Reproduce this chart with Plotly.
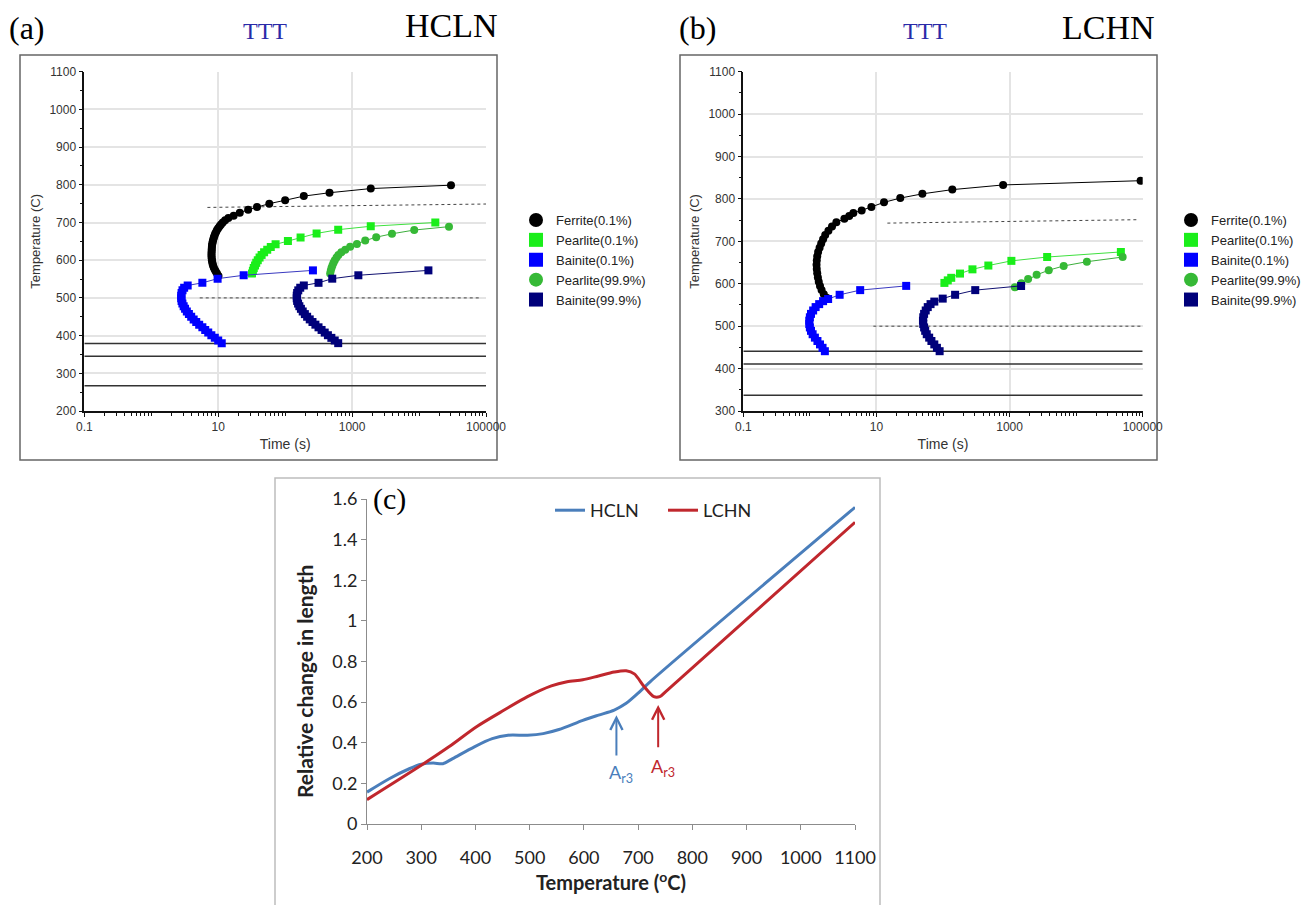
import plotly.graph_objects as go

W, H = 1310, 905

# ---------------- TTT data, steel HCLN (panel a) ----------------
series_names = ["Ferrite(0.1%)", "Pearlite(0.1%)", "Bainite(0.1%)",
                "Pearlite(99.9%)", "Bainite(99.9%)"]

hcln_ferrite_T = [558, 565, 570, 575, 580, 585, 590, 595, 600, 605, 610, 615, 620, 625,
                  630, 635, 640, 645, 650, 655, 660, 665, 670, 675, 680, 685, 690, 695,
                  700, 706, 712, 718, 726, 734, 741, 750, 759, 770, 779, 790, 799]
hcln_ferrite_t = [10.1, 9.6, 9.2, 8.9, 8.6, 8.4, 8.25, 8.15, 8.05, 8.0, 7.95, 7.95, 7.95, 8.0,
                  8.0, 8.05, 8.1, 8.2, 8.3, 8.45, 8.6, 8.8, 9.0, 9.3, 9.6, 10.0, 10.5, 11.0,
                  11.7, 12.7, 14.2, 17, 21, 28, 38, 58, 100, 190, 460, 1900, 30000]

hcln_pearl01_T = [565, 572, 579, 586, 593, 600, 607, 614, 621, 628, 635, 642, 651, 660,
                  671, 681, 690, 700]
hcln_pearl01_t = [32, 33, 34, 35.5, 37, 39, 41.5, 44.5, 48.5, 54, 61, 72, 110, 170,
                  295, 620, 1900, 17500]

hcln_bain01_T = [380, 387, 394, 401, 408, 415, 422, 429, 436, 443, 450, 457, 464, 471,
                 478, 485, 492, 499, 506, 513, 520, 527, 533, 540, 551, 560, 573]
hcln_bain01_t = [11.3, 10.0, 8.9, 7.9, 7.1, 6.4, 5.8, 5.2, 4.7, 4.3, 3.95, 3.65, 3.4, 3.2,
                 3.05, 2.92, 2.84, 2.8, 2.8, 2.84, 2.93, 3.1, 3.5, 5.8, 9.8, 24, 260]

hcln_pearl999_T = [565, 572, 579, 586, 593, 600, 607, 614, 621, 628, 636, 643, 652, 661,
                   670, 680, 689]
hcln_pearl999_t = [470, 480, 492, 508, 528, 552, 585, 625, 690, 790, 935, 1180, 1570, 2290,
                   3940, 8470, 28000]

hcln_bain999_T = [380, 387, 394, 401, 408, 415, 422, 429, 436, 443, 450, 457, 464, 471,
                  478, 485, 492, 499, 506, 513, 520, 527, 533, 540, 551, 560, 573]
hcln_bain999_t = [620, 550, 490, 435, 390, 350, 315, 283, 256, 233, 213, 197, 183, 172,
                  163, 156, 151, 149, 149, 151, 157, 168, 190, 315, 505, 1240, 13800]

hcln_solid_T = [379, 345, 267]                     # horizontal reference temperatures
hcln_dash_upper_t, hcln_dash_upper_T = [6.9, 100000], [740, 749]
hcln_dash_lower_t, hcln_dash_lower_T = [5.3, 79000], [500, 500]

# ---------------- TTT data, steel LCHN (panel b) ----------------
lchn_ferrite_T = [567, 575, 585, 595, 605, 615, 625, 635, 645, 655, 665, 675, 685, 695,
                  705, 715, 725, 735, 745, 753, 760, 767, 773, 781, 792, 802, 812, 822,
                  833, 843]
lchn_ferrite_t = [1.78, 1.62, 1.5, 1.42, 1.36, 1.32, 1.29, 1.27, 1.26, 1.27, 1.29, 1.33,
                  1.4, 1.48, 1.58, 1.7, 1.9, 2.15, 2.5, 3.3, 3.9, 4.5, 6.0, 8.4, 13, 22.8,
                  49, 138, 800, 93000]

lchn_pearl01_T = [602, 608, 614, 624, 634, 643, 654, 663, 675]
lchn_pearl01_t = [105, 118, 133, 180, 277, 480, 1065, 3670, 47000]

lchn_bain01_T = [441, 449, 457, 465, 473, 481, 489, 497, 505, 513, 521, 529, 537, 545,
                 552, 559, 564, 574, 585, 595]
lchn_bain01_t = [1.68, 1.55, 1.42, 1.3, 1.19, 1.1, 1.04, 1.0, 0.98, 0.98, 1.0, 1.04, 1.12,
                 1.22, 1.38, 1.58, 1.88, 2.8, 5.7, 28]

lchn_pearl999_T = [592, 601, 611, 621, 632, 642, 652, 663]
lchn_pearl999_t = [1200, 1500, 1900, 2550, 3880, 6500, 14500, 50000]

lchn_bain999_T = [441, 449, 457, 465, 473, 481, 489, 497, 505, 513, 521, 529, 537, 545,
                  552, 558, 565, 574, 585, 595]
lchn_bain999_t = [89, 81, 74, 67, 62, 57, 54, 52, 50.5, 50, 50.5, 52, 55, 59, 65, 74, 99,
                  152, 305, 1490]

lchn_solid_T = [441, 411, 337]
lchn_dash_upper_t, lchn_dash_upper_T = [14.6, 81000], [743, 751]
lchn_dash_lower_t, lchn_dash_lower_T = [9, 100000], [500, 500]

# ---------------- dilatometry (panel c) ----------------
dil_hcln_T = [200, 241, 278, 300, 322, 340, 358, 398, 431, 460, 496, 525, 554, 598, 627,
              656, 678, 700, 722, 1100]
dil_hcln_dl = [0.157, 0.223, 0.272, 0.294, 0.300, 0.297, 0.322, 0.38, 0.42, 0.437, 0.437,
               0.445, 0.465, 0.51, 0.536, 0.561, 0.594, 0.644, 0.70, 1.559]
dil_lchn_T = [200, 300, 351, 402, 453, 496, 540, 569, 598, 627, 656, 678, 693, 711, 729,
              740, 751, 1100]
dil_lchn_dl = [0.12, 0.289, 0.38, 0.479, 0.561, 0.627, 0.68, 0.70, 0.71, 0.729, 0.748,
               0.754, 0.739, 0.677, 0.627, 0.627, 0.652, 1.485]

ar3_hcln = (660, 0.536)   # A_r3 of HCLN (temperature, relative change)
ar3_lchn = (737, 0.586)   # A_r3 of LCHN

# ---------------- styling ----------------
MARK_COL = ["#000000", "#1aee1a", "#0000ff", "#36b936", "#00007a"]
LINE_COL = ["#000000", "#3fe03f", "#3a3ac0", "#3cae3c", "#101070"]
SYMBOL = ["circle", "square", "square", "circle", "square"]
SANS = "Liberation Sans, Arial, sans-serif"
SERIF = "Liberation Serif, Times New Roman, serif"
CAL = "Lato, Open Sans, sans-serif"
BLUE_C = "#4a7ebb"
RED_C = "#c0272d"


def px(x):
    return x / W


def py(y):
    return 1 - y / H


fig = go.Figure()

panels = [
    ("x", "y", "legend",
     [(hcln_ferrite_t, hcln_ferrite_T), (hcln_pearl01_t, hcln_pearl01_T),
      (hcln_bain01_t, hcln_bain01_T), (hcln_pearl999_t, hcln_pearl999_T),
      (hcln_bain999_t, hcln_bain999_T)],
     hcln_solid_T, [(hcln_dash_upper_t, hcln_dash_upper_T), (hcln_dash_lower_t, hcln_dash_lower_T)]),
    ("x2", "y2", "legend2",
     [(lchn_ferrite_t, lchn_ferrite_T), (lchn_pearl01_t, lchn_pearl01_T),
      (lchn_bain01_t, lchn_bain01_T), (lchn_pearl999_t, lchn_pearl999_T),
      (lchn_bain999_t, lchn_bain999_T)],
     lchn_solid_T, [(lchn_dash_upper_t, lchn_dash_upper_T), (lchn_dash_lower_t, lchn_dash_lower_T)]),
]

for xa, ya, leg, curves, solids, dashes in panels:
    # horizontal reference temperatures across the full time range
    for T in solids:
        fig.add_trace(go.Scatter(x=[0.1, 100000], y=[T, T], mode="lines", xaxis=xa, yaxis=ya,
                                 line=dict(color="#333333", width=1.5), showlegend=False,
                                 hoverinfo="skip"))
    for t_d, T_d in dashes:
        fig.add_trace(go.Scatter(x=t_d, y=T_d, mode="lines", xaxis=xa, yaxis=ya,
                                 line=dict(color="#444444", width=1, dash="3px,3px"),
                                 showlegend=False, hoverinfo="skip"))
    for i, (t_d, T_d) in enumerate(curves):
        fig.add_trace(go.Scatter(
            x=t_d, y=T_d, mode="lines+markers", xaxis=xa, yaxis=ya,
            line=dict(color=LINE_COL[i], width=1),
            marker=dict(color=MARK_COL[i], symbol=SYMBOL[i], size=8, line=dict(width=0)),
            name=series_names[i], showlegend=False))
    # legend entries (marker only, larger symbol)
    for i in range(5):
        fig.add_trace(go.Scatter(
            x=[None], y=[None], mode="markers", xaxis=xa, yaxis=ya,
            marker=dict(color=MARK_COL[i], symbol=SYMBOL[i], size=14, line=dict(width=0)),
            name=series_names[i], legend=leg, showlegend=True))

# dilatometric curves
fig.add_trace(go.Scatter(x=dil_hcln_T, y=dil_hcln_dl, mode="lines", xaxis="x3", yaxis="y3",
                         line=dict(color=BLUE_C, width=3, shape="spline", smoothing=0.8),
                         name="HCLN", legend="legend3"))
fig.add_trace(go.Scatter(x=dil_lchn_T, y=dil_lchn_dl, mode="lines", xaxis="x3", yaxis="y3",
                         line=dict(color=RED_C, width=3, shape="spline", smoothing=0.8),
                         name="LCHN", legend="legend3"))

# ---------------- axes ----------------
minor_log = [m * 10 ** e for e in range(-1, 5) for m in range(1, 10)
             if not (m == 1 and e % 2 == 1)]
tick_font = dict(family=SANS, size=12, color="#333333")
title_font = dict(family=SANS, size=13, color="#333333")


def ttt_xaxis(domain, anchor):
    return dict(type="log", range=[-1, 5], domain=domain, anchor=anchor, automargin=False,
                tickvals=[0.1, 10, 1000, 100000], ticktext=["0.1", "10", "1000", "100000"],
                showgrid=True, gridcolor="#e4e4e4", gridwidth=1.5, zeroline=False,
                showline=True, linecolor="#111111", linewidth=1.5,
                ticks="outside", ticklen=4, tickcolor="#111111",
                minor=dict(tickvals=minor_log, ticks="outside", ticklen=3, tickcolor="#111111"),
                tickfont=tick_font,
                title=dict(text="Time (s)", font=dict(family=SANS, size=14, color="#333333"),
                           standoff=6))


def ttt_yaxis(domain, anchor, lo):
    return dict(range=[lo, 1100], domain=domain, anchor=anchor, dtick=100, automargin=False,
                showgrid=True, gridcolor="#e4e4e4", gridwidth=1.5, zeroline=False,
                showline=True, linecolor="#111111", linewidth=1.5,
                ticks="outside", ticklen=4, tickcolor="#111111",
                minor=dict(dtick=50, ticks="outside", ticklen=3, tickcolor="#111111"),
                tickfont=tick_font,
                title=dict(text="Temperature (C)", font=title_font, standoff=6))


ttt_ydom = [py(411), py(71.7)]
fig.update_layout(
    xaxis=ttt_xaxis([px(84.3), px(486)], "y"),
    yaxis=ttt_yaxis(ttt_ydom, "x", 200),
    xaxis2=ttt_xaxis([px(743.3), px(1142.7)], "y2"),
    yaxis2=ttt_yaxis(ttt_ydom, "x2", 300),
    xaxis3=dict(range=[200, 1100], domain=[px(367), px(855)], anchor="y3", dtick=100,
                automargin=False,
                showgrid=False, zeroline=False, showline=True, linecolor="#8c8c8c",
                linewidth=1, ticks="outside", ticklen=5, tickcolor="#8c8c8c",
                ticklabelstandoff=12,
                tickfont=dict(family=CAL, size=18, color="#222222"),
                title=dict(text="<b>Temperature (<sup>o</sup>C)</b>",
                           font=dict(family=CAL, size=20, color="#222222"), standoff=6)),
    yaxis3=dict(range=[0, 1.6], domain=[py(824), py(499)], anchor="x3", dtick=0.2,
                automargin=False,
                showgrid=False, zeroline=False, showline=True, linecolor="#8c8c8c",
                linewidth=1, ticks="outside", ticklen=5, tickcolor="#8c8c8c",
                tickfont=dict(family=CAL, size=18, color="#222222")),
)

# ---------------- legends ----------------
leg_common = dict(bgcolor="rgba(0,0,0,0)", borderwidth=0, itemwidth=30, tracegroupgap=0,
                  font=dict(family=SANS, size=13, color="#222222"),
                  xanchor="left", yanchor="top", itemclick=False, itemdoubleclick=False)
fig.update_layout(
    legend=dict(x=px(516), y=py(205), **leg_common),
    legend2=dict(x=px(1171), y=py(205), **leg_common),
    legend3=dict(x=px(550), y=py(492), orientation="h", xanchor="left", yanchor="top",
                 entrywidth=68, entrywidthmode="pixels",
                 bgcolor="rgba(0,0,0,0)", font=dict(family=CAL, size=18, color="#222222"),
                 itemclick=False, itemdoubleclick=False),
)

# ---------------- frames ----------------
frame = dict(type="rect", xref="paper", yref="paper", layer="below", fillcolor="rgba(0,0,0,0)")
fig.add_shape(x0=px(20), x1=px(497), y0=py(460), y1=py(55),
              line=dict(color="#666666", width=1.5), **frame)
fig.add_shape(x0=px(680), x1=px(1157), y0=py(460), y1=py(55),
              line=dict(color="#666666", width=1.5), **frame)
fig.add_shape(x0=px(275), x1=px(880), y0=py(910), y1=py(478),
              line=dict(color="#bdbdbd", width=1.5), **frame)

# ---------------- annotations ----------------
def label(x, y, text, size, color="#000000", family=SERIF, angle=0):
    fig.add_annotation(x=px(x), y=py(y), xref="paper", yref="paper", text=text,
                       showarrow=False, xanchor="center", yanchor="middle", textangle=angle,
                       font=dict(family=family, size=size, color=color))


label(27, 28, "(a)", 32)
label(265, 31, "TTT", 24, "#2a2aa8")
label(452, 26, "HCLN", 34)
label(697, 28, "(b)", 32)
label(925, 31, "TTT", 24, "#2a2aa8")
label(1108, 28, "LCHN", 34)
label(389, 499, "(c)", 30)
label(304, 682, "<b>Relative change in length</b>", 21, "#222222", CAL, -90)

for (T_ar, v_ar), col, tail_v, txt_T, txt_v in [
        (ar3_hcln, BLUE_C, 0.33, 668, 0.25),
        (ar3_lchn, RED_C, 0.37, 745, 0.28)]:
    fig.add_annotation(x=T_ar, y=v_ar, xref="x3", yref="y3", ax=T_ar, ay=tail_v,
                       axref="x3", ayref="y3", text="", showarrow=True,
                       arrowhead=5, arrowsize=1.2, arrowwidth=2, arrowcolor=col)
    fig.add_annotation(x=txt_T, y=txt_v, xref="x3", yref="y3", text="A<sub>r3</sub>",
                       showarrow=False, font=dict(family=CAL, size=18, color=col))

fig.update_layout(width=W, height=H, margin=dict(l=0, r=0, t=0, b=0, autoexpand=False),
                  paper_bgcolor="white", plot_bgcolor="white", hovermode=False)

fig.write_html("out.html")
